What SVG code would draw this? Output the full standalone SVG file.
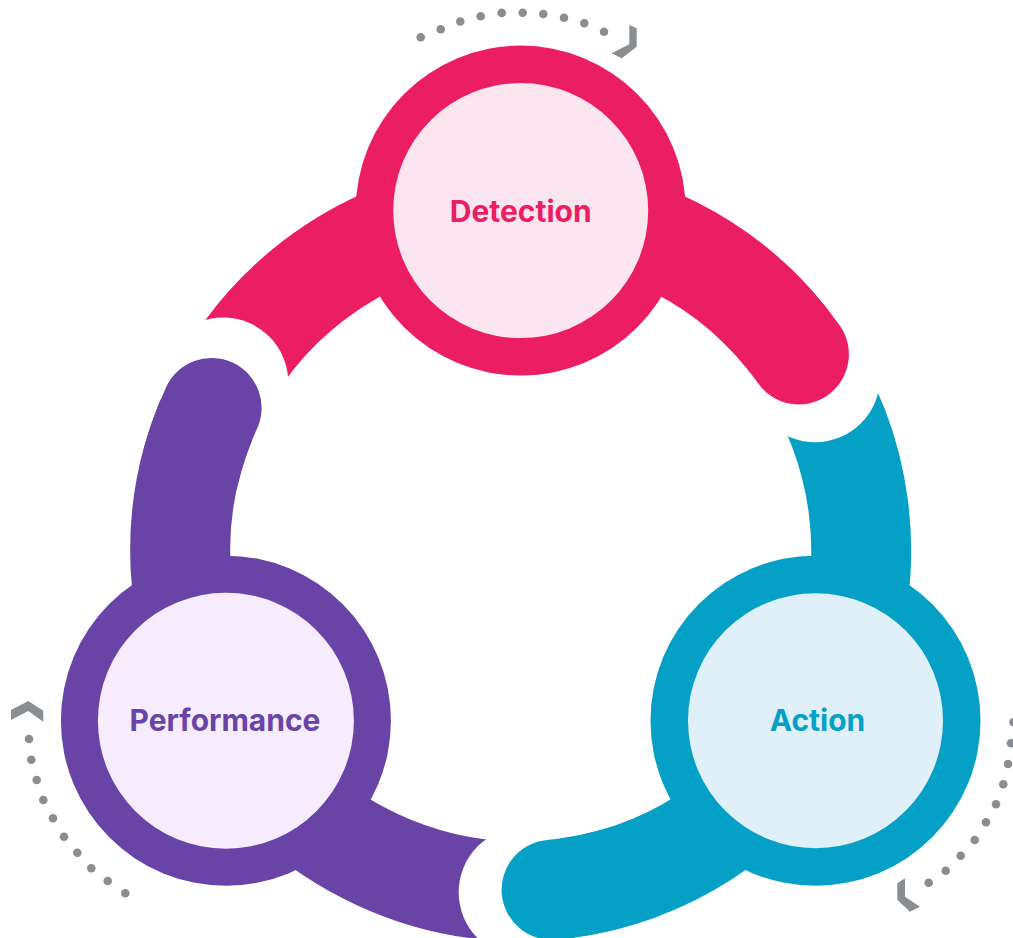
<svg xmlns="http://www.w3.org/2000/svg" width="1013" height="938" viewBox="0 0 1013 938">
  <style>
    .band { fill: none; stroke-width: 100; stroke-linecap: butt; }
    .capseg { fill: none; stroke-width: 100; stroke-linecap: round; }
    .halo { fill: #ffffff; }
    .pink { stroke: #EB1E63; }
    .teal { stroke: #04A0C6; }
    .purple { stroke: #6944A6; }
    .label { font-family: Inter, "Liberation Sans", sans-serif; font-weight: 700; font-size: 30px; text-anchor: middle; }
    .dot { fill: #8A8D92; }
    .chev { fill: #8A8D92; }
  </style>

  <!-- ring bands: centre (520.7,550.7), radius 340.5, caps at -35.2, 84.8, 204.8 degrees -->
  <g id="connectors">
    <path class="band pink" d="M211.6 407.9 A340.5 340.5 0 0 1 798.9 354.4"/>
    <path class="band teal" d="M798.9 354.4 A340.5 340.5 0 0 1 551.6 889.8"/>
    <path class="band purple" d="M551.6 889.8 A340.5 340.5 0 0 1 211.6 407.9"/>

    <!-- white gaps in front of each rounded end -->
    <circle class="halo" cx="815.0" cy="377.3" r="65"/>
    <circle class="halo" cx="523.7" cy="892.3" r="65"/>
    <circle class="halo" cx="223.3" cy="382.5" r="65"/>

    <!-- rounded ends -->
    <path class="capseg pink" d="M752.0 300.9 A340.5 340.5 0 0 1 798.9 354.4"/>
    <path class="capseg teal" d="M621.4 876.0 A340.5 340.5 0 0 1 551.6 889.8"/>
    <path class="capseg purple" d="M188.7 475.3 A340.5 340.5 0 0 1 211.6 407.9"/>
  </g>

  <!-- dotted cycle arrows -->
  <g id="cycle-arrows">
    <g class="dot">
      <circle cx="420.7" cy="37.3" r="4.3"/>
      <circle cx="440.7" cy="29.3" r="4.3"/>
      <circle cx="460.3" cy="21.5" r="4.3"/>
      <circle cx="480.7" cy="16.3" r="4.3"/>
      <circle cx="501.7" cy="12.9" r="4.3"/>
      <circle cx="522.7" cy="12.7" r="4.3"/>
      <circle cx="543.3" cy="14.0" r="4.3"/>
      <circle cx="564.0" cy="17.7" r="4.3"/>
      <circle cx="584.3" cy="23.3" r="4.3"/>
      <circle cx="604.0" cy="31.7" r="4.3"/>

      <circle cx="29.0" cy="739.0" r="4.3"/>
      <circle cx="31.3" cy="759.7" r="4.3"/>
      <circle cx="36.7" cy="780.0" r="4.3"/>
      <circle cx="43.3" cy="800.0" r="4.3"/>
      <circle cx="53.0" cy="818.3" r="4.3"/>
      <circle cx="64.0" cy="836.7" r="4.3"/>
      <circle cx="77.3" cy="852.7" r="4.3"/>
      <circle cx="91.3" cy="868.3" r="4.3"/>
      <circle cx="107.7" cy="881.0" r="4.3"/>
      <circle cx="125.3" cy="893.3" r="4.3"/>

      <circle cx="1013.5" cy="722.3" r="4.3"/>
      <circle cx="1011.0" cy="743.3" r="4.3"/>
      <circle cx="1008.0" cy="764.0" r="4.3"/>
      <circle cx="1003.3" cy="784.3" r="4.3"/>
      <circle cx="996.0" cy="804.3" r="4.3"/>
      <circle cx="986.0" cy="822.3" r="4.3"/>
      <circle cx="974.7" cy="840.0" r="4.3"/>
      <circle cx="960.7" cy="855.7" r="4.3"/>
      <circle cx="945.7" cy="870.7" r="4.3"/>
      <circle cx="928.7" cy="882.7" r="4.3"/>
    </g>
    <polygon class="chev" points="629.3,25 636.7,28.3 636.7,46.7 621.7,58.3 611.7,53.3 629.3,44.3"/>
    <polygon class="chev" points="11,710 28.3,701 43.3,710.7 43.3,721.7 28.3,711 11,720"/>
    <polygon class="chev" points="905,878.3 897.3,883.3 897.3,900 910,911.7 920,906.7 905,896.7"/>
  </g>

  <g id="node-detection">
    <circle cx="520.7" cy="210.6" r="165" fill="#EB1E63"/>
    <circle cx="520.7" cy="210.6" r="127.5" fill="#FBE5EE"/>
    <text class="label" x="520.7" y="222" fill="#EB1E63">Detection</text>
  </g>

  <g id="node-action">
    <circle cx="815.5" cy="720.7" r="165" fill="#04A0C6"/>
    <circle cx="815.5" cy="720.7" r="127.5" fill="#DFF0F8"/>
    <text class="label" x="817.5" y="730.5" fill="#04A0C6">Action</text>
  </g>

  <g id="node-performance">
    <circle cx="225.9" cy="720.7" r="165" fill="#6944A6"/>
    <circle cx="225.9" cy="720.7" r="128" fill="#F6ECFD"/>
    <text class="label" x="225" y="731" fill="#6944A6">Performance</text>
  </g>
</svg>
